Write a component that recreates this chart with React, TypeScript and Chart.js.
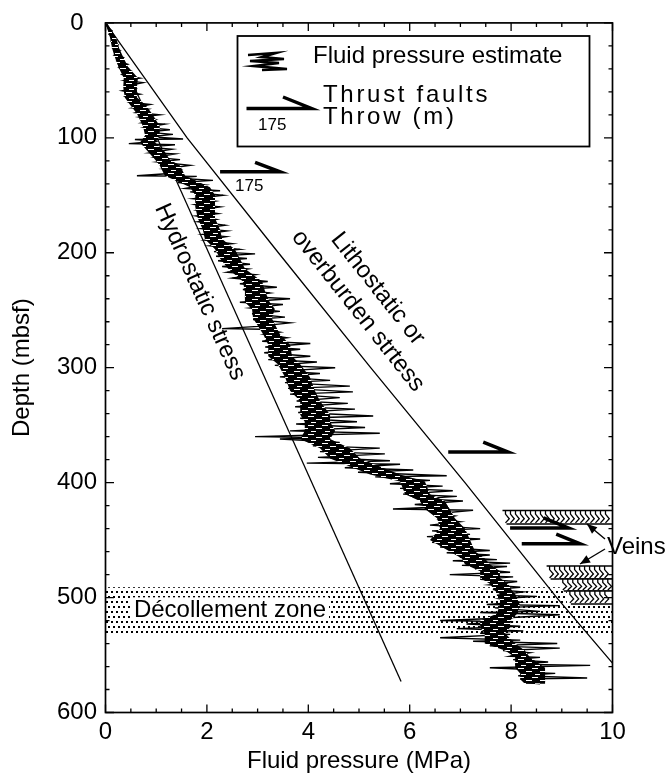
import React, { useEffect, useRef } from 'react';
import { Chart, registerables } from 'chart.js';

Chart.register(...registerables);

const FONT = "'Liberation Sans', Arial, Helvetica, sans-serif";

// Fluid pressure estimate (jagged log) : pressure (MPa) and depth (mbsf)
const fluidPressure = [
  0.0, 0.05, 0.13, 0.07, 0.19, 0.11, 0.25, 0.15, 0.29, 0.17,
  0.35, 0.23, 0.44, 0.27, 0.5, 0.33, 0.68, 0.38, 0.74, 0.4,
  0.58, 0.33, 0.68, 0.4, 0.62, 0.48, 0.88, 0.54, 0.84, 0.6,
  1.07, 0.68, 0.98, 0.72, 1.17, 0.78, 1.27, 0.82, 1.33, 0.88,
  1.53, 0.58, 1.03, 0.46, 1.37, 0.78, 1.31, 0.88, 1.37, 0.98,
  1.47, 1.03, 1.67, 1.17, 1.47, 1.27, 0.62, 1.8, 1.37, 2.12,
  1.43, 1.96, 1.57, 2.26, 1.67, 2.32, 1.73, 2.16, 1.77, 2.26,
  1.81, 2.22, 1.79, 2.18, 1.83, 2.36, 1.89, 2.4, 1.92, 2.38,
  1.96, 2.5, 2.06, 2.65, 2.14, 2.95, 2.18, 2.79, 2.22, 2.85,
  2.3, 2.81, 2.4, 2.95, 2.5, 3.2, 2.65, 3.38, 2.71, 3.24,
  2.75, 3.64, 2.65, 3.5, 2.85, 3.44, 2.89, 3.54, 2.91, 3.64,
  3.01, 2.3, 3.11, 3.44, 3.13, 3.58, 3.09, 4.04, 3.15, 3.84,
  3.13, 4.04, 3.21, 4.17, 3.34, 4.53, 3.48, 4.23, 3.44, 4.43,
  3.54, 4.82, 3.6, 4.88, 3.64, 4.62, 3.77, 4.78, 3.74, 4.92,
  3.8, 5.28, 3.84, 4.96, 3.76, 5.12, 3.64, 5.41, 2.95, 4.43,
  3.44, 4.62, 4.09, 5.41, 4.23, 5.51, 4.19, 5.61, 3.97, 5.81,
  4.72, 6.07, 4.98, 6.73, 5.32, 6.4, 5.61, 6.65, 5.81, 6.85,
  5.87, 6.93, 6.2, 7.05, 6.1, 6.69, 5.67, 7.25, 6.54, 6.89,
  6.6, 6.99, 6.4, 7.39, 6.44, 7.19, 6.34, 7.39, 6.44, 7.19,
  6.6, 7.58, 6.73, 7.58, 6.99, 7.72, 6.85, 7.98, 7.03, 7.92,
  7.29, 7.98, 6.79, 8.04, 7.39, 8.12, 7.58, 8.18, 7.64, 8.24,
  7.72, 8.51, 7.78, 8.18, 7.52, 8.96, 7.68, 8.57, 7.39, 8.96,
  7.78, 6.6, 8.04, 7.12, 8.18, 6.93, 8.24, 7.39, 7.98, 6.6,
  8.18, 7.25, 8.91, 7.58, 8.96, 7.84, 8.37, 7.98, 8.57, 8.04,
  8.73, 8.08, 9.56, 7.58, 8.57, 8.18, 8.87, 8.14, 9.5, 8.18,
  8.67, 8.28, 8.57,
];
const fluidDepth = [
  0, 4, 7, 10, 13, 16, 19, 22, 24, 28,
  30, 33, 36, 39, 42, 45, 48, 50, 52, 55,
  57, 59, 62, 64, 67, 69, 71, 74, 75, 78,
  80, 82, 84, 87, 88, 91, 93, 95, 97, 99,
  101, 101.5, 103, 105, 106, 108, 110, 113, 114, 117,
  119, 121, 124, 127, 128, 131, 133, 133.5, 135, 137,
  139, 141, 144, 146, 147, 150, 153, 155, 158, 160,
  163, 166, 168, 171, 173, 176, 179, 181, 184, 186,
  189, 192, 194, 197, 199, 201, 203, 205, 207, 210,
  212, 214, 217, 219, 222, 225, 227, 230, 232, 235,
  238, 240, 243, 245, 248, 251, 253, 256, 258, 261,
  264, 266, 266.5, 269, 271, 274, 277, 279, 282, 284,
  287, 290, 293, 295, 298, 300, 303, 305, 308, 311,
  313, 316, 318, 321, 323, 326, 329, 331, 334, 336,
  339, 342, 344, 347, 349, 352, 355, 357, 360, 361,
  362, 365, 368, 370, 373, 375, 378, 381, 383, 384,
  387, 389, 391, 394, 395, 398, 401, 403, 405, 407,
  410, 412, 414, 416, 419, 421, 423, 424, 427, 429,
  432, 434, 437, 440, 442, 445, 447, 449, 452, 454,
  456, 459, 461, 463, 465, 467, 468, 470, 472, 473,
  475, 478, 480, 482, 484, 486, 489, 491, 493, 495,
  498, 499, 501, 504, 506, 507, 509, 512, 513, 515,
  518, 520, 521, 523, 525, 527, 529, 531, 532, 535,
  537, 538, 540, 542, 544, 546, 548, 551, 552, 554,
  556, 558, 559, 561, 563, 565, 566, 568, 570, 571,
  573, 574, 575,
];

// Dense (black) part of the fluid pressure log: left / right edges at each depth
const coreDepth = [
  0, 13, 22, 28, 38, 48, 56, 65, 71, 79,
  90, 98, 104, 112, 119, 124, 133, 137, 143, 150,
  160, 170, 180, 188, 197, 205, 214, 225, 234, 243,
  249, 257, 271, 280, 290, 297, 308, 320, 329, 341,
  347, 355, 362, 370, 379, 386, 393, 399, 410, 416,
  423, 431, 440, 450, 460, 466, 471, 477, 483, 488,
  494, 497, 506, 514, 520, 526, 531, 540, 546, 552,
  561, 566, 571, 575,
];
const coreLeft = [
  0.0, 0.09, 0.13, 0.17, 0.25, 0.36, 0.35, 0.38, 0.48, 0.62,
  0.74, 0.78, 0.68, 0.84, 0.98, 1.07, 1.17, 1.37, 1.67, 1.77,
  1.77, 1.82, 1.92, 1.96, 2.16, 2.26, 2.42, 2.71, 2.75, 2.75,
  2.89, 2.91, 3.11, 3.21, 3.21, 3.4, 3.54, 3.64, 3.84, 3.84,
  3.93, 3.93, 3.84, 4.23, 4.43, 4.82, 5.22, 5.81, 5.91, 6.2,
  6.3, 6.54, 6.6, 6.4, 6.79, 7.03, 7.09, 7.39, 7.39, 7.58,
  7.68, 7.78, 7.78, 7.72, 7.39, 7.39, 7.48, 7.48, 7.88, 8.08,
  8.08, 8.18, 8.18, 8.27,
];
const coreRight = [
  0.03, 0.21, 0.27, 0.33, 0.44, 0.64, 0.62, 0.62, 0.78, 0.92,
  1.07, 1.07, 0.98, 1.17, 1.27, 1.47, 1.57, 1.77, 2.06, 2.16,
  2.16, 2.16, 2.26, 2.3, 2.55, 2.65, 2.75, 3.09, 3.15, 3.24,
  3.34, 3.28, 3.44, 3.64, 3.68, 3.84, 4.03, 4.13, 4.23, 4.43,
  4.43, 4.53, 4.43, 4.82, 5.02, 5.41, 5.81, 6.3, 6.4, 6.69,
  6.79, 6.89, 7.09, 7.19, 7.29, 7.48, 7.58, 7.78, 7.78, 7.94,
  8.02, 8.08, 8.17, 8.12, 7.98, 7.98, 7.88, 8.08, 8.27, 8.37,
  8.67, 8.67, 8.67, 8.67,
];

// Hydrostatic stress line
const hydroPressure = [0, 5.83];
const hydroDepth = [0, 573];

// Lithostatic (overburden) stress line
const lithoPressure = [0, 1.61, 3.41, 5.23, 7.09, 8.9, 10];
const lithoDepth = [0, 100, 200, 300, 400, 500, 557];

// Thrust faults (half-arrow symbols)
const faultDepth = [129.5, 373.4, 439.4, 453.2];
const faultStart = [2.26, 6.76, 7.98, 8.21];
const faultEnd = [3.44, 7.94, 9.13, 9.36];
const faultTipPressure = [2.95, 7.45, 8.64, 8.89];
const faultTipDepth = [121.4, 364.7, 430.7, 444.8];
const faultThrow = ['175', '', '', ''];

// Décollement zone
const decollementTop = 491;
const decollementBottom = 531.5;
const decollementLabel = 'Décollement zone';
const decollementLabelPressure = 0.56;
const decollementLabelDepth = 517.2;

// Vein bands
const veinTop = [424.3, 472.6, 483.8, 494.2];
const veinBottom = [435.9, 483.8, 494.2, 505.5];
const veinStart = [7.83, 8.7, 8.96, 9.1];

// Rotated line labels
const hydroLabel = 'Hydrostatic stress';
const hydroLabelPressure = 1.86;
const hydroLabelDepth = 234.1;
const lithoLabels = ['Lithostatic or', 'overburden strtess'];
const lithoLabelPressure = [5.37, 4.98];
const lithoLabelDepth = [231.3, 250.6];

const xTitle = 'Fluid pressure (MPa)';
const yTitle = 'Depth (mbsf)';

function makeDotPattern(ctx: CanvasRenderingContext2D) {
  const c = document.createElement('canvas');
  c.width = 10;
  c.height = 10;
  const g = c.getContext('2d')!;
  g.fillStyle = '#000';
  g.fillRect(1, 1, 2, 2);
  g.fillRect(6, 1, 2, 2);
  g.fillRect(3, 6, 2, 2);
  g.fillRect(8, 6, 2, 2);
  return ctx.createPattern(c, 'repeat')!;
}

// black fill broken by short white horizontal slits (log texture)
function makeStreakPattern(ctx: CanvasRenderingContext2D) {
  const c = document.createElement('canvas');
  c.width = 14;
  c.height = 9;
  const g = c.getContext('2d')!;
  g.fillStyle = '#000';
  g.fillRect(0, 0, 14, 9);
  g.fillStyle = '#fff';
  g.fillRect(0, 2, 6, 1);
  g.fillRect(8, 5, 6, 1);
  g.fillRect(3, 8, 5, 1);
  return ctx.createPattern(c, 'repeat')!;
}

function arrow(ctx: CanvasRenderingContext2D, x1: number, y1: number, x2: number, y2: number) {
  ctx.beginPath();
  ctx.moveTo(x1, y1);
  ctx.lineTo(x2, y2);
  ctx.stroke();
  const ang = Math.atan2(y2 - y1, x2 - x1);
  const L = 10, W = 4.2;
  ctx.beginPath();
  ctx.moveTo(x2, y2);
  ctx.lineTo(x2 - L * Math.cos(ang) + W * Math.sin(ang), y2 - L * Math.sin(ang) - W * Math.cos(ang));
  ctx.lineTo(x2 - L * Math.cos(ang) - W * Math.sin(ang), y2 - L * Math.sin(ang) + W * Math.cos(ang));
  ctx.closePath();
  ctx.fill();
}

const decoPlugin = {
  id: 'deco',
  beforeDatasetsDraw(chart: any) {
    const { ctx, chartArea: a, scales } = chart;
    const x = scales.x, y = scales.y;
    ctx.save();
    // décollement zone
    const yT = y.getPixelForValue(decollementTop);
    const yB = y.getPixelForValue(decollementBottom);
    ctx.fillStyle = makeDotPattern(ctx);
    ctx.fillRect(a.left, yT, a.right - a.left, yB - yT);
    ctx.font = `24px ${FONT}`;
    const lx = x.getPixelForValue(decollementLabelPressure);
    const ly = y.getPixelForValue(decollementLabelDepth);
    const w = ctx.measureText(decollementLabel).width;
    ctx.fillStyle = '#fff';
    ctx.fillRect(lx - 3, ly - 20, w + 6, 22);
    ctx.fillStyle = '#000';
    ctx.textBaseline = 'alphabetic';
    ctx.textAlign = 'left';
    ctx.fillText(decollementLabel, lx, ly);

    // veins
    for (let i = 0; i < veinTop.length; i++) {
      const x0 = x.getPixelForValue(veinStart[i]);
      const x1 = a.right;
      const yt = y.getPixelForValue(veinTop[i]);
      const yb = y.getPixelForValue(veinBottom[i]);
      ctx.fillStyle = '#fff';
      ctx.fillRect(x0, yt, x1 - x0, yb - yt);
      ctx.strokeStyle = '#000';
      ctx.lineWidth = 1.5;
      ctx.beginPath();
      ctx.moveTo(x0, yt);
      ctx.lineTo(x1, yt);
      ctx.moveTo(x0 + 4, yb);
      ctx.lineTo(x1, yb);
      ctx.stroke();
      ctx.lineWidth = 1.3;
      ctx.beginPath();
      for (let cx = x0 + 3; cx < x1 - 4; cx += 5) {
        ctx.moveTo(cx, yt);
        ctx.lineTo(cx, yt + 3.5);
        ctx.lineTo(cx + 3.8, (yt + yb) / 2 + 1.5);
        ctx.lineTo(cx, yb - 1);
      }
      ctx.stroke();
    }
    ctx.restore();
  },
  afterDatasetsDraw(chart: any) {
    const { ctx, chartArea: a, scales } = chart;
    const x = scales.x, y = scales.y;
    ctx.save();
    ctx.fillStyle = '#000';
    ctx.strokeStyle = '#000';

    // throw labels
    ctx.font = `17px ${FONT}`;
    ctx.textAlign = 'left';
    ctx.textBaseline = 'alphabetic';
    for (let i = 0; i < faultThrow.length; i++) {
      if (!faultThrow[i]) continue;
      const fx = x.getPixelForValue(faultStart[i]);
      const fy = y.getPixelForValue(faultDepth[i]);
      ctx.fillText(faultThrow[i], fx + 15, fy + 19);
    }

    // rotated labels
    ctx.font = `24px ${FONT}`;
    ctx.textAlign = 'center';
    ctx.textBaseline = 'middle';
    const hAng = Math.atan2(
      y.getPixelForValue(hydroDepth[1]) - y.getPixelForValue(hydroDepth[0]),
      x.getPixelForValue(hydroPressure[1]) - x.getPixelForValue(hydroPressure[0])
    );
    ctx.save();
    ctx.translate(x.getPixelForValue(hydroLabelPressure), y.getPixelForValue(hydroLabelDepth));
    ctx.rotate(hAng);
    ctx.fillText(hydroLabel, 0, 0);
    ctx.restore();
    const n = lithoPressure.length - 1;
    const lAng = Math.atan2(
      y.getPixelForValue(lithoDepth[n]) - y.getPixelForValue(lithoDepth[0]),
      x.getPixelForValue(lithoPressure[n]) - x.getPixelForValue(lithoPressure[0])
    );
    for (let i = 0; i < lithoLabels.length; i++) {
      ctx.save();
      ctx.translate(x.getPixelForValue(lithoLabelPressure[i]), y.getPixelForValue(lithoLabelDepth[i]));
      ctx.rotate(lAng);
      ctx.fillText(lithoLabels[i], 0, 0);
      ctx.restore();
    }

    // frame
    ctx.lineWidth = 1.7;
    ctx.strokeRect(a.left, a.top, a.right - a.left, a.bottom - a.top);
    // ticks
    ctx.lineWidth = 1.3;
    ctx.beginPath();
    for (let v = 0; v <= 10.001; v += 0.5) {
      const px = x.getPixelForValue(v);
      const major = Math.abs(v / 2 - Math.round(v / 2)) < 1e-6;
      const len = major ? 8 : 4;
      ctx.moveTo(px, a.bottom);
      ctx.lineTo(px, a.bottom - len);
      ctx.moveTo(px, a.top);
      ctx.lineTo(px, a.top + len);
    }
    for (let v = 0; v <= 600; v += 20) {
      const py = y.getPixelForValue(v);
      const len = v % 100 === 0 ? 8.5 : 4;
      ctx.moveTo(a.left, py);
      ctx.lineTo(a.left + len, py);
      ctx.moveTo(a.right, py);
      ctx.lineTo(a.right - len, py);
    }
    ctx.stroke();

    // Veins label and arrows
    ctx.font = `24px ${FONT}`;
    ctx.textAlign = 'left';
    ctx.textBaseline = 'alphabetic';
    ctx.fillText('Veins', 607, 553.5);
    ctx.lineWidth = 1.4;
    arrow(ctx, 605, 539, 587, 524);
    arrow(ctx, 605, 549, 580, 564);

    // legend
    ctx.lineWidth = 1.8;
    ctx.fillStyle = '#fff';
    ctx.fillRect(237.5, 36, 352, 110.5);
    ctx.strokeRect(237.5, 36, 352, 110.5);
    ctx.fillStyle = '#000';
    ctx.lineWidth = 2.6;
    ctx.lineJoin = 'miter';
    ctx.beginPath();
    const sq = [[248, 55], [276, 53], [262, 57], [284, 59], [250, 61], [279, 63], [254, 66], [287, 69], [262, 70]];
    sq.forEach(([px, py], i) => (i ? ctx.lineTo(px, py) : ctx.moveTo(px, py)));
    ctx.stroke();
    ctx.lineWidth = 3.5;
    ctx.beginPath();
    ctx.moveTo(246.5, 108.5);
    ctx.lineTo(311.5, 108.5);
    ctx.lineTo(283, 97);
    ctx.stroke();
    ctx.font = `17px ${FONT}`;
    ctx.fillText('175', 258, 130);
    ctx.font = `24px ${FONT}`;
    ctx.fillText('Fluid pressure estimate', 313, 63);
    (ctx as any).letterSpacing = '2.7px';
    ctx.fillText('Thrust faults', 323, 101.5);
    ctx.fillText('Throw (m)', 323, 123.5);
    (ctx as any).letterSpacing = '0px';
    ctx.restore();
  },
};

export default function App() {
  const ref = useRef<HTMLCanvasElement | null>(null);
  useEffect(() => {
    if (!ref.current) return;
    Chart.defaults.font.family = FONT;
    const ctx2d = ref.current.getContext('2d')!;
    const pts = (xs: number[], ys: number[]) => xs.map((v, i) => ({ x: v, y: ys[i] }));
    const lineDs = (data: any[], width: number) => ({
      data,
      showLine: true,
      borderColor: '#000',
      backgroundColor: '#000',
      borderWidth: width,
      pointRadius: 0,
      tension: 0,
      fill: false,
    });
    const coreOutline = [
      ...pts(coreLeft, coreDepth),
      ...pts(coreRight, coreDepth).reverse(),
    ];
    const coreDs: any = lineDs(coreOutline, 0);
    coreDs.fill = 'shape';
    coreDs.backgroundColor = makeStreakPattern(ctx2d);
    const datasets: any[] = [
      coreDs,
      lineDs(pts(fluidPressure, fluidDepth), 1.4),
      lineDs(pts(hydroPressure, hydroDepth), 1.3),
      lineDs(pts(lithoPressure, lithoDepth), 1.3),
    ];
    for (let i = 0; i < faultDepth.length; i++) {
      const d = lineDs(
        [
          { x: faultStart[i], y: faultDepth[i] },
          { x: faultEnd[i], y: faultDepth[i] },
          { x: faultTipPressure[i], y: faultTipDepth[i] },
        ],
        3.5
      );
      (d as any).borderJoinStyle = 'miter';
      datasets.push(d);
    }
    const chart = new Chart(ref.current, {
      type: 'scatter',
      data: { datasets },
      options: {
        responsive: false,
        animation: false,
        devicePixelRatio: 1,
        layout: { padding: { top: 20, right: 54.5, bottom: 0, left: 0 } },
        plugins: { legend: { display: false }, tooltip: { enabled: false } },
        scales: {
          x: {
            type: 'linear',
            position: 'bottom',
            min: 0,
            max: 10,
            ticks: { stepSize: 2, color: '#000', font: { size: 24, family: FONT }, padding: 5, maxRotation: 0, autoSkip: false },
            grid: { display: false, drawTicks: false },
            border: { display: false },
            title: { display: true, text: xTitle, color: '#000', font: { size: 24, family: FONT }, padding: { top: 0, bottom: 0 } },
            afterFit: (s: any) => { s.height = 63.5; },
          },
          y: {
            type: 'linear',
            position: 'left',
            reverse: true,
            min: 0,
            max: 600,
            ticks: { stepSize: 100, color: '#000', font: { size: 24, family: FONT }, padding: 8.5, crossAlign: 'center', autoSkip: false },
            grid: { display: false, drawTicks: false },
            border: { display: false },
            title: { display: true, text: yTitle, color: '#000', font: { size: 24, family: FONT }, padding: { top: 7.6, bottom: 0 } },
            afterFit: (s: any) => { s.width = 105.5; },
          },
        },
      } as any,
      plugins: [decoPlugin],
    });
    return () => chart.destroy();
  }, []);
  return (
    <div style={{ position: 'absolute', left: 0, top: 0, width: 667, height: 776, background: '#fff' }}>
      <canvas ref={ref} width={667} height={776} style={{ display: 'block' }} />
    </div>
  );
}
